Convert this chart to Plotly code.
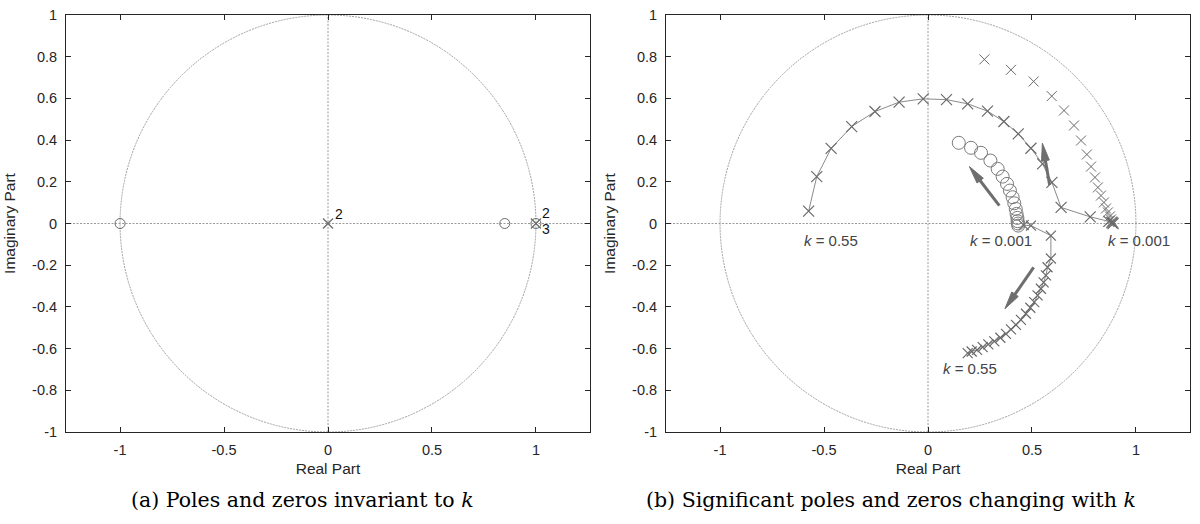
import math
import plotly.graph_objects as go

# ---------------- data ----------------
# (a) poles and zeros invariant to k
a_zero_re = [-1.0, 0.85, 1.0]
a_zero_im = [0.0, 0.0, 0.0]
a_pole_re = [0.0, 1.0]
a_pole_im = [0.0, 0.0]
a_mult_re = [0.0, 1.0, 1.0]
a_mult_im = [0.0, 0.0, 0.0]
a_mult_txt = ["2", "2", "3"]

# (b) trajectories changing with k
polesA_re = [0.890, 0.884, 0.870, 0.780, 0.640, 0.596, 0.551, 0.495, 0.434, 0.365, 0.286,
             0.191, 0.089, -0.023, -0.139, -0.255, -0.367, -0.466, -0.535, -0.574]
polesA_im = [0.000, 0.004, 0.010, 0.032, 0.077, 0.197, 0.286, 0.361, 0.430, 0.489, 0.539,
             0.574, 0.594, 0.598, 0.582, 0.537, 0.465, 0.360, 0.225, 0.059]

polesB_re = [0.460, 0.495, 0.591, 0.591, 0.575, 0.567, 0.556, 0.543, 0.527, 0.511, 0.492,
             0.471, 0.447, 0.423, 0.399, 0.375, 0.348, 0.319, 0.290, 0.263, 0.236, 0.210, 0.191]
polesB_im = [-0.008, -0.010, -0.058, -0.168, -0.210, -0.249, -0.282, -0.313, -0.345, -0.377,
             -0.404, -0.433, -0.462, -0.486, -0.508, -0.529, -0.548, -0.565, -0.580, -0.593,
             -0.606, -0.614, -0.622]

polesC_re = [0.271, 0.399, 0.508, 0.595, 0.654, 0.702, 0.736, 0.764, 0.784, 0.803, 0.817,
             0.832, 0.846, 0.856, 0.865, 0.875, 0.880, 0.885, 0.889]
polesC_im = [0.787, 0.737, 0.681, 0.611, 0.542, 0.470, 0.398, 0.331, 0.273, 0.221, 0.173,
             0.134, 0.101, 0.072, 0.053, 0.034, 0.019, 0.010, 0.005]

zeros_re = [0.148, 0.207, 0.255, 0.300, 0.335, 0.359, 0.380, 0.394, 0.407, 0.415, 0.422,
            0.426, 0.430, 0.431, 0.433, 0.434]
zeros_im = [0.387, 0.363, 0.339, 0.302, 0.262, 0.225, 0.190, 0.158, 0.126, 0.097, 0.070,
            0.046, 0.027, 0.011, 0.000, -0.010]

k_lab_re = [-0.466, 0.351, 1.014, 0.202]
k_lab_im = [-0.082, -0.082, -0.082, -0.695]
k_lab_val = ["0.55", "0.001", "0.001", "0.55"]

arrow_tail_re = [0.343, 0.585, 0.508]
arrow_tail_im = [0.086, 0.185, -0.210]
arrow_head_re = [0.199, 0.550, 0.370]
arrow_head_im = [0.273, 0.385, -0.409]

x_ticks = [-1, -0.5, 0, 0.5, 1]
x_tick_text = ["-1", "-0.5", "0", "0.5", "1"]
y_ticks = [-1, -0.8, -0.6, -0.4, -0.2, 0, 0.2, 0.4, 0.6, 0.8, 1]
y_tick_text = ["-1", "-0.8", "-0.6", "-0.4", "-0.2", "0", "0.2", "0.4", "0.6", "0.8", "1"]

captions = ["(a) Poles and zeros invariant to <i>k</i>",
            "(b) Significant poles and zeros changing with <i>k</i>"]

# ---------------- figure ----------------
W, H = 1200, 524
fig = go.Figure()

MARK = "#6a6a6a"
LINE = "#8a8a8a"
GUIDE = "#9a9a9a"
ARROW = "#6e6e6e"
SANS = "Liberation Sans, Arial, sans-serif"

# (a)
fig.add_trace(go.Scatter(x=a_zero_re, y=a_zero_im, mode="markers", xaxis="x", yaxis="y",
                         marker=dict(symbol="circle-open", size=10, color=MARK, line=dict(width=1))))
fig.add_trace(go.Scatter(x=a_pole_re, y=a_pole_im, mode="markers", xaxis="x", yaxis="y",
                         marker=dict(symbol="x-thin-open", size=10, color=MARK, line=dict(width=1.2, color=MARK))))

# (b)
fig.add_trace(go.Scatter(x=polesC_re, y=polesC_im, mode="markers", xaxis="x2", yaxis="y2",
                         marker=dict(symbol="x-thin-open", size=10, color=MARK, line=dict(width=1, color=MARK))))
fig.add_trace(go.Scatter(x=polesA_re, y=polesA_im, mode="lines+markers", xaxis="x2", yaxis="y2",
                         line=dict(color=LINE, width=1),
                         marker=dict(symbol="x-thin-open", size=11, color=MARK, line=dict(width=1.2, color=MARK))))
fig.add_trace(go.Scatter(x=polesB_re, y=polesB_im, mode="lines+markers", xaxis="x2", yaxis="y2",
                         line=dict(color=LINE, width=1),
                         marker=dict(symbol="x-thin-open", size=10, color=MARK, line=dict(width=1.2, color=MARK))))
fig.add_trace(go.Scatter(x=zeros_re, y=zeros_im, mode="markers", xaxis="x2", yaxis="y2",
                         marker=dict(symbol="circle-open", size=13, color="#7a7a7a", line=dict(width=1))))

# arrows: shaft + long narrow head, built from the tail/head arrays
HEAD_LEN, HEAD_HALF = 0.085, 0.019
for tr, ti, hr, hi in zip(arrow_tail_re, arrow_tail_im, arrow_head_re, arrow_head_im):
    dx, dy = hr - tr, hi - ti
    n = math.hypot(dx, dy)
    ux, uy = dx / n, dy / n
    bx, by = hr - ux * HEAD_LEN, hi - uy * HEAD_LEN
    px, py = -uy, ux
    fig.add_trace(go.Scatter(x=[tr, bx + ux * 0.01], y=[ti, by + uy * 0.01], mode="lines",
                             xaxis="x2", yaxis="y2", line=dict(color=ARROW, width=3),
                             hoverinfo="skip"))
    fig.add_trace(go.Scatter(x=[hr, bx + px * HEAD_HALF, bx - px * HEAD_HALF, hr],
                             y=[hi, by + py * HEAD_HALF, by - py * HEAD_HALF, hi],
                             mode="lines", fill="toself", fillcolor=ARROW,
                             xaxis="x2", yaxis="y2", line=dict(color=ARROW, width=1),
                             hoverinfo="skip"))

shapes = []
for xr, yr in (("x", "y"), ("x2", "y2")):
    shapes.append(dict(type="circle", xref=xr, yref=yr, x0=-1, y0=-1, x1=1, y1=1,
                       line=dict(color="#a0a0a0", width=1, dash="2px,1px"), layer="below"))
    shapes.append(dict(type="line", xref=xr, yref=yr, x0=-1.26, x1=1.26, y0=0, y1=0,
                       line=dict(color=GUIDE, width=1, dash="2px,1.5px"), layer="below"))
    shapes.append(dict(type="line", xref=xr, yref=yr, x0=0, x1=0, y0=-1, y1=1,
                       line=dict(color=GUIDE, width=1, dash="2px,1.5px"), layer="below"))

ann = []
# multiplicity labels (a)
mult_pos = [("middle", 11, 9), ("bottom", 10, 1), ("top", 10, 3)]
for re, im, t, (ya, dx, dy) in zip(a_mult_re, a_mult_im, a_mult_txt, mult_pos):
    ann.append(dict(x=re, y=im, xref="x", yref="y", text=t, showarrow=False,
                    xanchor="center", yanchor=ya, xshift=dx, yshift=dy, borderpad=0,
                    font=dict(family=SANS, size=14, color="#111111")))
# k labels (b)
for re, im, v in zip(k_lab_re, k_lab_im, k_lab_val):
    ann.append(dict(x=re, y=im, xref="x2", yref="y2", text="<i>k</i> = " + v, showarrow=False,
                    xanchor="center", yanchor="middle",
                    font=dict(family=SANS, size=15, color="#444444")))
# captions
for cx, t in zip([302 / W, 891 / W], captions):
    ann.append(dict(x=cx, y=1 - 500 / H, xref="paper", yref="paper", text=t, showarrow=False,
                    xanchor="center", yanchor="middle",
                    font=dict(family="DejaVu Serif, serif", size=20.5, color="#000000")))

axis_common = dict(range=[-1.26, 1.26], tickmode="array", tickvals=x_ticks, ticktext=x_tick_text,
                   ticks="inside", ticklen=5, tickcolor="#262626", showline=True, linecolor="#262626",
                   linewidth=1, mirror="allticks", showgrid=False, zeroline=False, automargin=False,
                   ticklabelstandoff=5,
                   tickfont=dict(family=SANS, size=14.5, color="#262626"),
                   title=dict(text="Real Part", standoff=5,
                              font=dict(family=SANS, size=15.5, color="#262626")))
yaxis_common = dict(range=[-1, 1], tickmode="array", tickvals=y_ticks, ticktext=y_tick_text,
                    ticks="inside", ticklen=5, tickcolor="#262626", showline=True, linecolor="#262626",
                    linewidth=1, mirror="allticks", showgrid=False, zeroline=False, automargin=False,
                    ticklabelstandoff=5,
                    tickfont=dict(family=SANS, size=14.5, color="#262626"),
                    title=dict(text="Imaginary Part", standoff=12,
                               font=dict(family=SANS, size=15.5, color="#262626")))

ydom = [1 - 432 / H, 1 - 15 / H]
fig.update_layout(
    width=W, height=H, margin=dict(l=0, r=0, t=0, b=0, autoexpand=False),
    paper_bgcolor="white", plot_bgcolor="white", showlegend=False,
    xaxis=dict(domain=[66 / W, 590 / W], anchor="y", **axis_common),
    yaxis=dict(domain=ydom, anchor="x", **yaxis_common),
    xaxis2=dict(domain=[666 / W, 1190 / W], anchor="y2", **axis_common),
    yaxis2=dict(domain=ydom, anchor="x2", **yaxis_common),
    shapes=shapes, annotations=ann,
)

fig.write_html("out.html", config={"displayModeBar": False},
               post_script="document.body.style.margin='0';document.body.style.overflow='hidden';")
